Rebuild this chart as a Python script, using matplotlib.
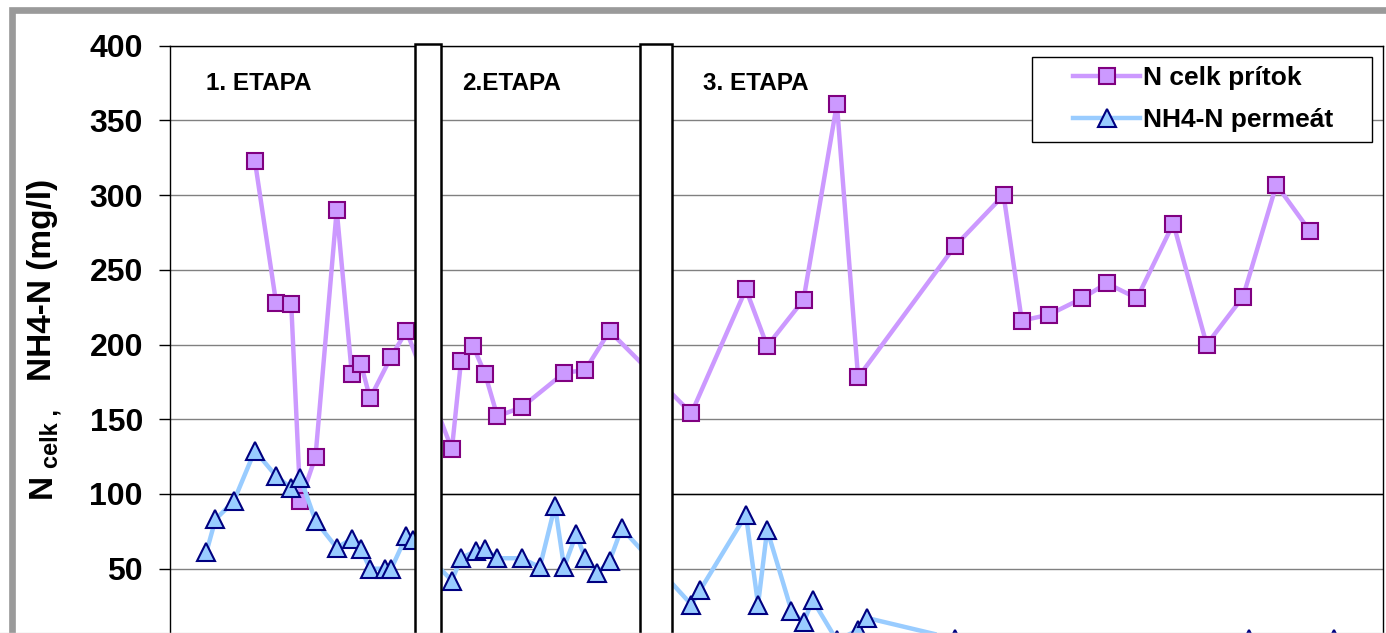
import matplotlib
matplotlib.use("Agg")
import matplotlib.pyplot as plt
from matplotlib.patches import Rectangle
from matplotlib.lines import Line2D

plt.rcParams['font.family'] = ['Liberation Sans', 'DejaVu Sans']
plt.rcParams['font.weight'] = 'bold'

# sampling day and concentration (mg/l) for each series
ncelk_days = [28, 35, 40, 43, 48, 55, 60, 63, 66, 73, 78,
              93, 96, 100, 104, 108, 116, 130, 137, 145,
              172, 190, 197, 209, 220, 227, 259, 275, 281, 290, 301, 309, 319, 331, 342, 354, 365, 376]
ncelk_vals = [323, 228, 227, 95, 125, 290, 180, 187, 164, 192, 209,
              130, 189, 199, 180, 152, 158, 181, 183, 209,
              154, 237, 199, 230, 361, 178, 266, 300, 216, 220, 231, 241, 231, 281, 200, 232, 307, 276]

nh4_days = [12, 15, 21, 28, 35, 40, 43, 48, 55, 60, 63, 66, 71, 73, 78, 80,
            93, 96, 101, 104, 108, 116, 122, 127, 130, 134, 137, 141, 145, 149,
            172, 175, 190, 194, 197, 205, 209, 212, 220, 227, 230, 259, 356, 384]
nh4_vals = [61, 83, 95, 129, 112, 104, 111, 82, 64, 70, 63, 50, 50, 50, 72, 69,
            42, 57, 62, 63, 57, 57, 51, 92, 51, 73, 57, 47, 55, 77,
            26, 36, 86, 26, 76, 22, 14, 29, 2, 9, 17, 3, 3, 3]

# stage names, where each label starts, and the breaks between stages (days)
stage_labels = ['1. ETAPA', '2.ETAPA', '3. ETAPA']
stage_label_days = [11.8, 96.4, 175.8]
stage_breaks = [(80.9, 89.3), (155.1, 165.7)]

series_names = ['N celk prítok', 'NH4-N permeát']
yticks = list(range(0, 401, 50))

W, H = 1386, 633
fig = plt.figure(figsize=(W / 100, H / 100), dpi=100)


def fpx(x, y):
    # pixel position (from top-left) -> figure fraction
    return x / W, 1 - y / H


ax = fig.add_axes([170 / W, 1 - 643.4 / H, 1212.5 / W, 597.7 / H])
ax.set_xlim(0, 400)
ax.set_ylim(0, 400)
ax.set_xticks([])
ax.set_yticks(yticks)
ax.tick_params(axis='y', direction='out', length=8, width=1, pad=11.5, labelsize=23)
for lbl in ax.get_yticklabels():
    lbl.set_fontweight('bold')
ax.spines['bottom'].set_visible(False)
for s in ['left', 'top', 'right']:
    ax.spines[s].set_linewidth(1)
ax.set_axisbelow(True)
ax.yaxis.grid(True, color='#808080', lw=1)
ax.axhline(100, color='black', lw=1, zorder=1)

ax.plot(ncelk_days, ncelk_vals, color='#CC99FF', lw=3.2, marker='s', ms=12,
        mfc='#CC99FF', mec='#800080', mew=1.5, zorder=3)
ax.plot(nh4_days, nh4_vals, color='#99CCFF', lw=3.2, marker='^', ms=13,
        mfc='#99CCFF', mec='#000080', mew=1.5, zorder=4)

# white bars separating the stages
for x0, x1 in stage_breaks:
    ax.add_patch(Rectangle((x0, -20), x1 - x0, 421, facecolor='white',
                           edgecolor='black', lw=1.8, zorder=6, clip_on=False))

for name, d in zip(stage_labels, stage_label_days):
    ax.text(d, 375, name, fontsize=17.5, fontweight='bold', ha='left', va='center', zorder=7)

# y axis title built from pieces so "celk" can sit as a subscript
fig.text(*fpx(42.5, 280), 'NH4-N (mg/l)', rotation=90, fontsize=24, fontweight='bold',
         ha='center', va='center')
fig.text(*fpx(42.5, 486), 'N', rotation=90, fontsize=24, fontweight='bold',
         ha='center', va='center')
fig.text(*fpx(51, 439), 'celk ,', rotation=90, fontsize=17, fontweight='bold',
         ha='center', va='center')

# legend box
lx, ly = fpx(1032, 142)
fig.add_artist(Rectangle((lx, ly), 340 / W, 85 / H, transform=fig.transFigure,
                         facecolor='white', edgecolor='black', lw=1, zorder=8))
handles = [
    Line2D([], [], color='#CC99FF', lw=3.2, marker='s', ms=12, mfc='#CC99FF', mec='#800080', mew=1.5),
    Line2D([], [], color='#99CCFF', lw=3.2, marker='^', ms=13, mfc='#99CCFF', mec='#000080', mew=1.5),
]
leg = fig.legend(handles, series_names, loc='center left', bbox_to_anchor=fpx(1073, 99),
                 frameon=False, borderpad=0, borderaxespad=0, handlelength=2.55,
                 handletextpad=0.12, labelspacing=0.68, prop={'size': 19, 'weight': 'bold'})
leg.set_zorder(9)

# chart area border
bx, by = fpx(11.7, 700)
fig.add_artist(Rectangle((bx, by), 1.1, (700 - 10) / H, transform=fig.transFigure,
                         fill=False, edgecolor='#9a9a9a', lw=4.8, zorder=10))
fig.add_artist(Line2D([0, 1], [0.5 / H, 0.5 / H], transform=fig.transFigure,
                      color='#d8d8d8', lw=1, zorder=10))

fig.savefig('out.png', dpi=100)
